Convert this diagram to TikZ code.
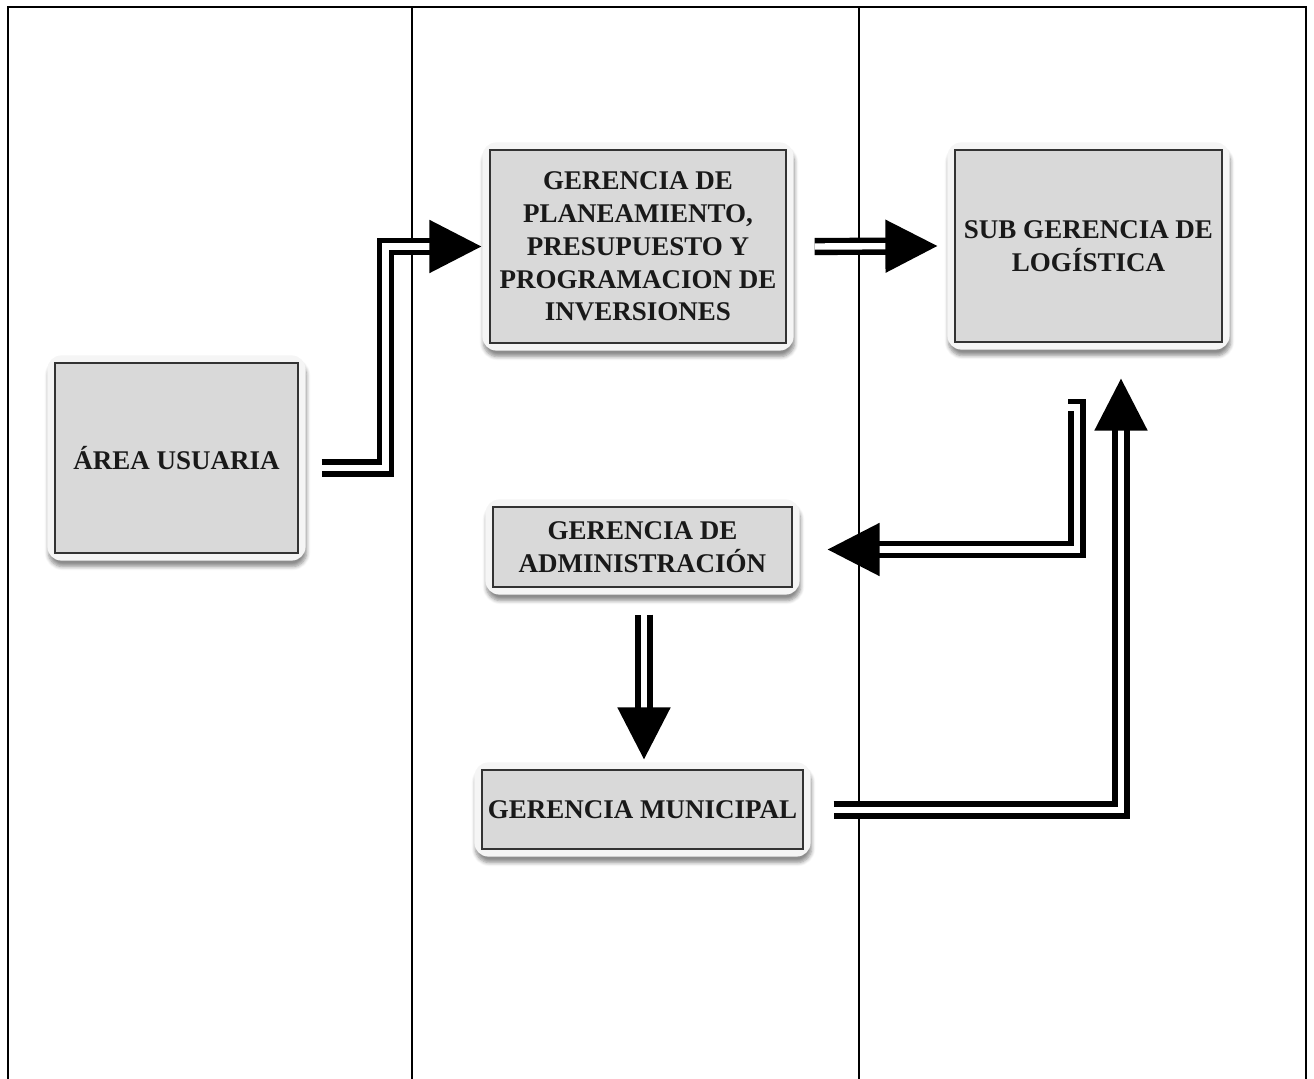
\documentclass[tikz,border=0pt]{standalone}
\usepackage{fontspec}
\setmainfont{Liberation Serif}
\usetikzlibrary{calc}
\usetikzlibrary{positioning}
\usetikzlibrary{arrows.meta}
\usetikzlibrary{fit,backgrounds,shadows.blur}

\tikzset{
  caja/.style={draw=black!80, line width=0.6pt, fill=black!15, align=center,
    text=black!90, font=\bfseries\fontsize{13.5}{16.4}\selectfont, inner sep=0pt},
  marco/.style={fill=black!4, rounded corners=7pt, inner sep=3.5pt,
    blur shadow={shadow xshift=0.5pt, shadow yshift=-3pt, shadow blur steps=6, shadow opacity=45}},
  flecha/.style={line width=2.7pt, double=white, double distance=3.2pt,
    -{Triangle[length=26pt,width=26pt]}},
}

\begin{document}
\begin{tikzpicture}[x=0.5pt, y=-0.5pt]

\useasboundingbox (0,0) rectangle (1314,1079);

% tabla
\draw[line width=1.3pt] (8,1079) -- (8,7) -- (1306,7) -- (1306,1079);
\draw[line width=1pt] (412,7) -- (412,1079);
\draw[line width=1pt] (859,7) -- (859,1079);

% cajas
\node[caja, minimum width=121.5pt, minimum height=95pt] (usu) at (176.5,458)
  {ÁREA USUARIA};
\node[caja, minimum width=148pt, minimum height=96.5pt] (plan) at (638,246.5)
  {GERENCIA DE\\PLANEAMIENTO,\\PRESUPUESTO Y\\PROGRAMACION DE\\INVERSIONES};
\node[caja, minimum width=133.5pt, minimum height=96pt] (sub) at (1088.5,246)
  {SUB GERENCIA DE\\LOGÍSTICA};
\node[caja, minimum width=149.5pt, minimum height=40pt] (adm) at (642.5,547)
  {GERENCIA DE\\ADMINISTRACIÓN};
\node[caja, minimum width=160.5pt, minimum height=39.5pt] (mun) at (642.5,809.5)
  {GERENCIA MUNICIPAL};

\begin{scope}[on background layer]
\foreach \n in {usu,plan,sub,adm,mun}
  \node[marco, fit=(\n)] (\n-m) {};
\end{scope}

% flechas
\draw[flecha] ($(usu.east)+(23,10)$) -| ($(plan.west)+(-104,0)$)
  -- ($(plan.west)+(-8,0)$);
\draw[flecha] ($(plan.east)+(28,0)$) -- ($(sub.west)+(-17,0)$);
\draw[flecha] ($(sub.south)+(-20.5,65)$) -- ++(9,0)
  |- ($(adm.east)+(35,2.5)$);
\draw[flecha] ($(adm.south)+(1.5,27)$) -- ($(mun.north)+(1.5,-10)$);
\draw[flecha] ($(mun.east)+(30,0.5)$) -| ($(sub.south)+(32.5,36)$);

\end{tikzpicture}
\end{document}
